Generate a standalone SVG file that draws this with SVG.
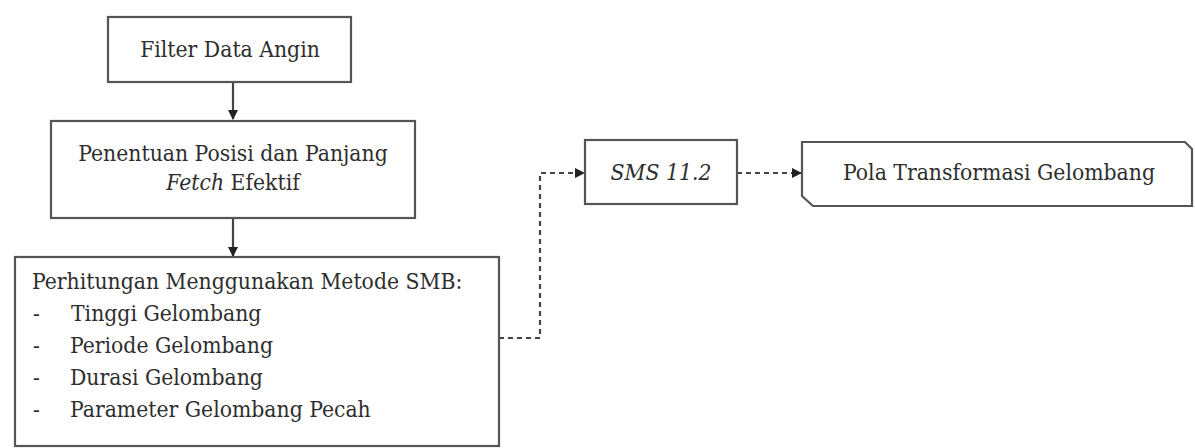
<svg xmlns="http://www.w3.org/2000/svg" width="1195" height="448" viewBox="0 0 1195 448">
<style>
.box{fill:#fff;stroke:#555;stroke-width:2.2}
.t{font-family:'DejaVu Serif Condensed','DejaVu Serif',serif;font-stretch:condensed;font-size:22.7px;fill:#2e2e2e}
.c{text-anchor:middle}
.i{font-style:italic}
.solid{fill:none;stroke:#444;stroke-width:2.2}
.dash{fill:none;stroke:#444;stroke-width:2.2;stroke-dasharray:5 4}
</style>
<defs>
<marker id="ah" markerWidth="10" markerHeight="10" refX="9" refY="5" orient="auto" markerUnits="userSpaceOnUse">
<path d="M0,0 L10,5 L0,10 Z" fill="#222"/>
</marker>
</defs>
<rect width="1195" height="448" fill="#fff"/>
<g id="connectors">
<line class="solid" x1="233" y1="82" x2="233" y2="119" marker-end="url(#ah)"/>
<line class="solid" x1="233" y1="218" x2="233" y2="256" marker-end="url(#ah)"/>
<polyline class="dash" points="499,338 540,338 540,173 584,173" marker-end="url(#ah)"/>
<line class="dash" x1="737" y1="173" x2="801" y2="173" marker-end="url(#ah)"/>
</g>
<g id="n1">
<rect class="box" x="108" y="17" width="243" height="65"/>
<text class="t c" x="230" y="57">Filter Data Angin</text>
</g>
<g id="n2">
<rect class="box" x="51" y="121" width="364" height="97"/>
<text class="t c" x="233" y="161">Penentuan Posisi dan Panjang</text>
<text class="t c" x="233" y="190"><tspan class="i">Fetch</tspan> Efektif</text>
</g>
<g id="n3">
<rect class="box" x="15" y="257" width="484" height="189"/>
<text class="t" x="32" y="289">Perhitungan Menggunakan Metode SMB:</text>
<text class="t" x="33" y="321">-</text><text class="t" x="71" y="321">Tinggi Gelombang</text>
<text class="t" x="33" y="353">-</text><text class="t" x="70" y="353">Periode Gelombang</text>
<text class="t" x="33" y="385">-</text><text class="t" x="70" y="385">Durasi Gelombang</text>
<text class="t" x="33" y="417">-</text><text class="t" x="70" y="417">Parameter Gelombang Pecah</text>
</g>
<g id="n4">
<rect class="box" x="585" y="140" width="152" height="64"/>
<text class="t c i" x="661" y="180">SMS 11.2</text>
</g>
<g id="n5">
<path class="box" d="M802,142 L1185,142 L1192,149 L1192,206 L813,206 L802,196 Z"/>
<text class="t c" x="999" y="180">Pola Transformasi Gelombang</text>
</g>
</svg>
